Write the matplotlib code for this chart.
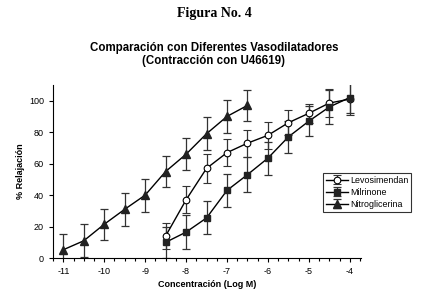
import matplotlib
matplotlib.use('Agg')
import matplotlib.pyplot as plt
from matplotlib.ticker import MultipleLocator

plt.rcParams['font.family'] = ['Liberation Sans', 'DejaVu Sans']
plt.rcParams['axes.unicode_minus'] = False

# Log concentration (M) and % relaxation
NITRO_X = [-11, -10.5, -10, -9.5, -9, -8.5, -8, -7.5, -7, -6.5]
NITRO_Y = [5.3, 11, 21.5, 31, 40, 55, 66, 79, 90, 97]
NITRO_E = [10, 10.5, 10, 10.5, 10.5, 10, 10, 10.5, 10.5, 10]

LEVO_X = [-8.5, -8, -7.5, -7, -6.5, -6, -5.5, -5, -4.5, -4]
LEVO_Y = [14, 37, 57, 67, 73, 78, 86, 92, 98.5, 101]
LEVO_E = [8.5, 8.5, 9, 8.5, 8.5, 8.7, 8, 6, 9, 10]

MILRI_X = [-8.5, -8, -7.5, -7, -6.5, -6, -5.5, -5, -4.5, -4]
MILRI_Y = [10, 16.5, 25.5, 43, 53, 63.5, 77, 87, 96, 102]
MILRI_E = [10, 11, 10.5, 10.5, 11, 10.5, 10, 9.5, 11, 10]

fig = plt.figure(figsize=(4.28, 2.97), dpi=100)
ax = fig.add_axes([0.124, 0.131, 0.72, 0.583])

err_kw = dict(ecolor='#333333', elinewidth=0.9, capsize=2.8, capthick=0.9)
ax.errorbar(LEVO_X, LEVO_Y, yerr=LEVO_E, color='black', lw=1, marker='o',
            markersize=4.8, markerfacecolor='white', markeredgecolor='black',
            markeredgewidth=0.8, label='Levosimendan', **err_kw)
ax.errorbar(MILRI_X, MILRI_Y, yerr=MILRI_E, color='black', lw=1, marker='s',
            markersize=4.5, markerfacecolor='#222222', markeredgecolor='#222222',
            label='Milrinone', **err_kw)
ax.errorbar(NITRO_X, NITRO_Y, yerr=NITRO_E, color='black', lw=1, marker='^',
            markersize=5.2, markerfacecolor='#222222', markeredgecolor='#222222',
            label='Nitroglicerina', **err_kw)

ax.set_xlim(-11.25, -3.72)
ax.set_ylim(0, 110)
ax.set_xticks(range(-11, -3))
ax.xaxis.set_minor_locator(MultipleLocator(0.25))
ax.set_yticks(range(0, 101, 20))
ax.tick_params(axis='both', which='major', labelsize=6.5, length=3, width=0.8)
ax.tick_params(axis='x', which='minor', length=2.5, width=0.8)
for s in ['top', 'right']:
    ax.spines[s].set_visible(False)
for s in ['left', 'bottom']:
    ax.spines[s].set_linewidth(0.8)

ax.set_xlabel('Concentración (Log M)', fontsize=6.5, fontweight='bold', labelpad=3)
ax.set_ylabel('% Relajación', fontsize=6.5, fontweight='bold', labelpad=3)

leg = ax.legend(loc='upper left', bbox_to_anchor=(0.877, 0.491), fontsize=6.4,
                frameon=True, fancybox=False, edgecolor='black',
                handlelength=2.5, handletextpad=0.2, borderpad=0.3,
                labelspacing=0.35, borderaxespad=0)
leg.get_frame().set_linewidth(0.8)

fig.text(0.5, 0.955, 'Figura No. 4', ha='center', va='center', fontsize=10,
         fontweight='bold', family='Liberation Serif')
fig.text(0.5, 0.817, 'Comparación con Diferentes Vasodilatadores\n(Contracción con U46619)',
         ha='center', va='center', fontsize=8.3, fontweight='bold',
         linespacing=1.05)

fig.savefig('out.png', dpi=100)
